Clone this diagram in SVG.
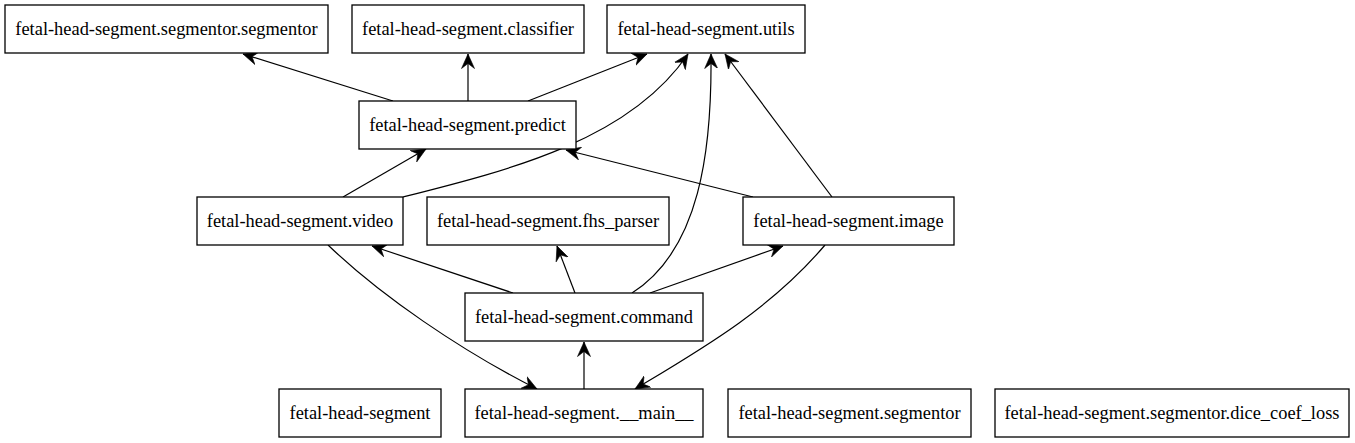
<svg xmlns="http://www.w3.org/2000/svg" width="1355" height="443" viewBox="0 0 1355 443">
<style>
.n rect{fill:#fff;stroke:#000;stroke-width:1.3}
.n text{font-family:"Liberation Serif","Times New Roman",serif;font-size:18.4px;text-anchor:middle;fill:#000}
.e path{fill:none;stroke:#000;stroke-width:1.2;marker-end:url(#v)}
</style>
<defs>
<marker id="v" viewBox="0 -7 15 14" refX="14.5" refY="0" markerWidth="15" markerHeight="14" markerUnits="userSpaceOnUse" orient="auto">
<path d="M0,-6.5 L14.5,0 L0,6.5 L5,0 Z" fill="#000" stroke="#000" stroke-width="0.6"/>
</marker>
</defs>
<rect width="1355" height="443" fill="#fff"/>
<g class="e" id="edges">
<path d="M393,101 L243,54"/>
<path d="M468,101 L468,54"/>
<path d="M528,101 L647,54"/>
<path d="M343,197 L426,149"/>
<path d="M403,197 C510,170 630,140 688,54"/>
<path d="M753,197 L566,150"/>
<path d="M832,197 L725,54"/>
<path d="M513,293 L372,246"/>
<path d="M575,293 L557,246"/>
<path d="M632,293 C700,250 712,150 711,54"/>
<path d="M650,293 L783,246"/>
<path d="M328,245 C380,295 460,350 537,389"/>
<path d="M825,245 C770,310 700,350 635,389"/>
<path d="M584,389 L584,342"/>
</g>
<g class="n" id="n_segmentor_segmentor"><rect x="5" y="5" width="323" height="48"/><text x="166.5" y="35">fetal-head-segment.segmentor.segmentor</text></g>
<g class="n" id="n_classifier"><rect x="352" y="5" width="232" height="48"/><text x="468" y="35">fetal-head-segment.classifier</text></g>
<g class="n" id="n_utils"><rect x="607" y="5" width="198" height="48"/><text x="706" y="35">fetal-head-segment.utils</text></g>
<g class="n" id="n_predict"><rect x="359" y="101" width="217" height="48"/><text x="467.5" y="131">fetal-head-segment.predict</text></g>
<g class="n" id="n_video"><rect x="197" y="197" width="206" height="48"/><text x="300" y="227">fetal-head-segment.video</text></g>
<g class="n" id="n_fhs_parser"><rect x="427" y="197" width="242" height="48"/><text x="548" y="227">fetal-head-segment.fhs_parser</text></g>
<g class="n" id="n_image"><rect x="743" y="197" width="211" height="48"/><text x="848.5" y="227">fetal-head-segment.image</text></g>
<g class="n" id="n_command"><rect x="465" y="293" width="238" height="48"/><text x="584" y="323">fetal-head-segment.command</text></g>
<g class="n" id="n_root"><rect x="279" y="389" width="162" height="48"/><text x="360" y="419">fetal-head-segment</text></g>
<g class="n" id="n_main"><rect x="465" y="389" width="238" height="48"/><text x="584" y="419">fetal-head-segment.__main__</text></g>
<g class="n" id="n_segmentor"><rect x="728" y="389" width="243" height="48"/><text x="849.5" y="419">fetal-head-segment.segmentor</text></g>
<g class="n" id="n_dice"><rect x="995" y="389" width="354" height="48"/><text x="1172" y="419">fetal-head-segment.segmentor.dice_coef_loss</text></g>
</svg>
